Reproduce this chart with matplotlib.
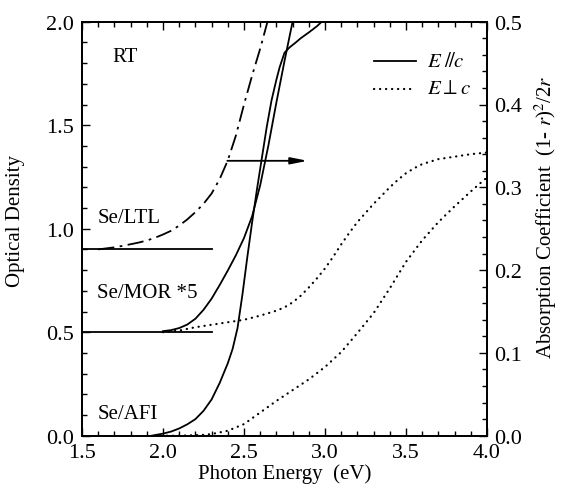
import matplotlib
matplotlib.use("Agg")
import matplotlib.pyplot as plt
from matplotlib.ticker import MultipleLocator, FormatStrFormatter

plt.rcParams['font.family'] = ['Liberation Serif', 'DejaVu Serif']
plt.rcParams['mathtext.fontset'] = 'stix'

# Se/LTL (E // c), dash-dot, left axis
ltl_x = [1.60, 1.65, 1.70, 1.75, 1.80, 1.85, 1.90, 1.95, 2.00, 2.05, 2.10, 2.15, 2.20, 2.25, 2.30,
         2.35, 2.40, 2.45, 2.50, 2.55, 2.60, 2.645]
ltl_y = [0.900, 0.905, 0.910, 0.917, 0.925, 0.933, 0.943, 0.956, 0.972, 0.990, 1.015, 1.045, 1.080,
         1.120, 1.170, 1.240, 1.330, 1.450, 1.600, 1.740, 1.870, 2.000]

# Se/MOR *5 (E // c), solid, left axis
mor_x = [2.00, 2.05, 2.10, 2.15, 2.20, 2.25, 2.30, 2.35, 2.40, 2.45, 2.50, 2.55, 2.60, 2.65, 2.70, 2.75, 2.80]
mor_y = [0.505, 0.510, 0.520, 0.537, 0.565, 0.608, 0.662, 0.728, 0.798, 0.872, 0.955, 1.060, 1.210,
         1.400, 1.610, 1.810, 2.000]

# Se/AFI (E // c), solid, left axis
afi_x = [1.93, 2.00, 2.05, 2.10, 2.15, 2.20, 2.25, 2.30, 2.35, 2.40, 2.43, 2.46, 2.49, 2.52, 2.55,
         2.58, 2.61, 2.64, 2.67, 2.70, 2.72, 2.75, 2.78, 2.82, 2.85, 2.90, 2.95, 2.98]
afi_y = [0.000, 0.010, 0.020, 0.035, 0.055, 0.080, 0.120, 0.175, 0.255, 0.350, 0.420, 0.520, 0.680,
         0.860, 1.030, 1.190, 1.340, 1.490, 1.620, 1.720, 1.780, 1.850, 1.875, 1.900, 1.920, 1.948,
         1.978, 2.000]

# Baselines
base_ltl = 0.9
base_mor = 0.5
base_x = [1.5, 2.3]

# E perp c, dotted, right axis
mor_perp_x = [2.00, 2.10, 2.20, 2.30, 2.40, 2.50, 2.60, 2.70, 2.75, 2.80, 2.85, 2.90, 2.95, 3.00, 3.05,
              3.10, 3.15, 3.20, 3.25, 3.30, 3.35, 3.40, 3.45, 3.50, 3.55, 3.60, 3.65, 3.70, 3.80, 3.90, 4.00]
mor_perp_y = [0.125, 0.127, 0.131, 0.134, 0.137, 0.140, 0.145, 0.151, 0.155, 0.161, 0.169, 0.179, 0.190,
              0.202, 0.216, 0.231, 0.245, 0.258, 0.269, 0.280, 0.290, 0.300, 0.309, 0.317, 0.323, 0.328,
              0.331, 0.334, 0.337, 0.340, 0.342]

afi_perp_x = [1.95, 2.10, 2.25, 2.30, 2.40, 2.50, 2.60, 2.70, 2.80, 2.90, 3.00, 3.10, 3.20, 3.30, 3.40,
              3.50, 3.60, 3.70, 3.80, 3.90, 4.00]
afi_perp_y = [0.000, 0.000, 0.001, 0.002, 0.006, 0.014, 0.028, 0.042, 0.055, 0.068, 0.083, 0.101, 0.124,
              0.148, 0.178, 0.210, 0.236, 0.258, 0.277, 0.295, 0.312]

fig = plt.figure(figsize=(5.61, 4.89), dpi=100)
ax = fig.add_axes([82/561, 1-436.7/489, (487-82)/561, (436.7-22.7)/489])
ax2 = ax.twinx()

lw = 1.3
dot_style = dict(color='black', lw=1.6, linestyle=(0, (0.1, 2.6)), dash_capstyle='round')
ax.plot(ltl_x, ltl_y, color='black', lw=lw, dashes=(9, 3, 1.5, 3))
ax.plot(mor_x, mor_y, color='black', lw=lw)
ax.plot(afi_x, afi_y, color='black', lw=lw)
ax.plot(base_x, [base_ltl, base_ltl], color='black', lw=lw)
ax.plot(base_x, [base_mor, base_mor], color='black', lw=lw)

ax2.plot(mor_perp_x, mor_perp_y, **dot_style)
ax2.plot(afi_perp_x, afi_perp_y, **dot_style)

ax.set_xlim(1.5, 4.0)
ax.set_ylim(0.0, 2.0)
ax2.set_ylim(0.0, 0.5)

tfs = 16
fs = 15
ax.xaxis.set_major_locator(MultipleLocator(0.5))
ax.xaxis.set_minor_locator(MultipleLocator(0.1))
ax.yaxis.set_major_locator(MultipleLocator(0.5))
ax.yaxis.set_minor_locator(MultipleLocator(0.1))
ax2.yaxis.set_major_locator(MultipleLocator(0.1))
ax2.yaxis.set_minor_locator(MultipleLocator(0.02))
ax.tick_params(which='both', direction='in', top=True, right=False, labelsize=tfs, width=1.0)
ax.tick_params(axis='x', which='major', pad=5)
ax.tick_params(axis='y', which='major', pad=6)
ax.tick_params(which='major', length=6)
ax.tick_params(which='minor', length=3.5)
ax2.tick_params(which='both', direction='in', labelsize=tfs, width=1.0)
ax2.tick_params(which='major', length=6, pad=5)
ax2.tick_params(which='minor', length=3.5)
ax.xaxis.set_major_formatter(FormatStrFormatter('%.1f'))
ax.yaxis.set_major_formatter(FormatStrFormatter('%.1f'))
ax2.yaxis.set_major_formatter(FormatStrFormatter('%.1f'))
for sp in list(ax.spines.values()) + list(ax2.spines.values()):
    sp.set_linewidth(1.3)

ax.set_xlabel('Photon Energy  (eV)', fontsize=fs, labelpad=1)
ax.set_ylabel('Optical Density', fontsize=15)
ax.yaxis.set_label_coords(-0.14, 0.52)
ax2.set_ylabel(r'Absorption Coefficient  (1- $r$)$^2$/2$r$', fontsize=15)
ax2.yaxis.set_label_coords(1.112, 0.53)

ax.text(1.69, 1.83, 'RT', fontsize=fs, va='center', ha='left')
ax.text(1.595, 1.055, 'Se/LTL', fontsize=fs, va='center', ha='left')
ax.text(1.595, 0.69, 'Se/MOR *5', fontsize=fs, va='center', ha='left')
ax.text(1.595, 0.105, 'Se/AFI', fontsize=fs, va='center', ha='left')

# legend
ax.plot([3.30, 3.56], [1.81, 1.81], color='black', lw=lw)
ax.text(3.63, 1.81, r'$E\ /\!/c$', fontsize=fs, va='center', ha='left')
ax2.plot([3.30, 3.56], [0.4185, 0.4185], **dot_style)
ax.text(3.63, 1.675, r'$E\perp c$', fontsize=fs, va='center', ha='left')

# arrow
ax.annotate('', xy=(2.91, 1.328), xytext=(2.38, 1.328),
            arrowprops=dict(arrowstyle='-|>,head_length=1.0,head_width=0.2', color='black', lw=1.3))

fig.savefig('out.png', dpi=100)
